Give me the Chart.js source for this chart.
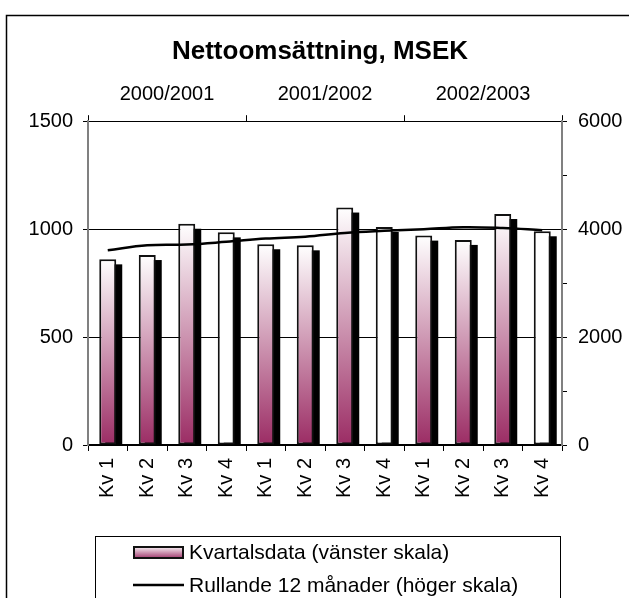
<!DOCTYPE html>
<html>
<head>
<meta charset="utf-8">
<script src="https://cdn.jsdelivr.net/npm/chart.js@4.4.1/dist/chart.umd.min.js"></script>
<style>
    html, body { margin: 0; padding: 0; background: #ffffff; }
    canvas { display: block; }
</style>
</head>
<body>
<canvas id="sales-chart" width="629" height="598"></canvas>
<script>
// Quarter categories and the fiscal years above them
var quarterLabels = ['Kv 1', 'Kv 2', 'Kv 3', 'Kv 4',
                     'Kv 1', 'Kv 2', 'Kv 3', 'Kv 4',
                     'Kv 1', 'Kv 2', 'Kv 3', 'Kv 4'];
var yearLabels = ['2000/2001', '2001/2002', '2002/2003'];

// Net sales per quarter, MSEK (left scale)
var quarterlySales = [860, 880, 1025, 985, 930, 925, 1100, 1010, 970, 950, 1070, 990];
// Rolling 12 months, MSEK (right scale)
var rolling12m = [3610, 3700, 3715, 3765, 3825, 3860, 3930, 3970, 4000, 4035, 4020, 3980];

// Axis ranges
var leftMax = 1500, leftStep = 500;
var rightMax = 6000, rightStep = 1000, rightLabelStep = 2000;

var seriesLabels = ['Kvartalsdata (vänster skala)', 'Rullande 12 månader (höger skala)'];

var MAROON = '#9b2c64';
var FONT = "'Liberation Sans', Arial, sans-serif";

Chart.defaults.font.family = FONT;
Chart.defaults.color = '#000000';

function barGradient(ctx, top, bottom) {
    var g = ctx.createLinearGradient(0, top, 0, bottom);
    g.addColorStop(0, '#ffffff');
    g.addColorStop(1, MAROON);
    return g;
}

// White page with the frame round the whole chart
var framePlugin = {
    id: 'frame',
    beforeDraw: function(chart) {
        var ctx = chart.ctx;
        ctx.save();
        ctx.fillStyle = '#ffffff';
        ctx.fillRect(0, 0, chart.width, chart.height);
        ctx.strokeStyle = '#000000';
        ctx.lineWidth = 1.5;
        ctx.strokeRect(6.5, 15.5, 700, 700);
        ctx.restore();
    }
};

// Black drop shadow behind every bar
var barShadowPlugin = {
    id: 'barShadow',
    beforeDatasetDraw: function(chart, args) {
        if (args.meta.type !== 'bar') return;
        var ctx = chart.ctx;
        var area = chart.chartArea;
        ctx.save();
        ctx.beginPath();
        ctx.rect(area.left, area.top, area.right - area.left, area.bottom - area.top);
        ctx.clip();
        ctx.fillStyle = '#000000';
        args.meta.data.forEach(function(bar) {
            var p = bar.getProps(['x', 'y', 'base', 'width'], true);
            ctx.fillRect(p.x - p.width / 2 + 6, p.y + 5, p.width, p.base - p.y - 5);
        });
        ctx.restore();
    }
};

// Boxed legend below the axis, items left aligned
var boxLegendPlugin = {
    id: 'boxLegend',
    afterDraw: function(chart) {
        var ctx = chart.ctx;
        var ds = chart.data.datasets;
        ctx.save();
        ctx.strokeStyle = '#000000';
        ctx.lineWidth = 1;
        ctx.strokeRect(95.5, 536.5, 465, 100);

        ctx.fillStyle = barGradient(ctx, 546, 559);
        ctx.fillRect(133, 546, 51, 13);
        ctx.lineWidth = 2;
        ctx.strokeStyle = '#111111';
        ctx.strokeRect(134, 547, 49, 11);

        ctx.beginPath();
        ctx.moveTo(133, 585);
        ctx.lineTo(184, 585);
        ctx.lineWidth = 2.5;
        ctx.strokeStyle = '#000000';
        ctx.stroke();

        ctx.fillStyle = '#000000';
        ctx.font = '21px ' + FONT;
        ctx.textAlign = 'left';
        ctx.textBaseline = 'middle';
        ctx.fillText(ds[0].label, 189, 553);
        ctx.fillText(ds[1].label, 189, 586);
        ctx.restore();
    }
};

var ctx = document.getElementById('sales-chart').getContext('2d');

new Chart(ctx, {
    type: 'bar',
    data: {
        labels: quarterLabels,
        datasets: [
            {
                label: seriesLabels[0],
                data: quarterlySales,
                yAxisID: 'y',
                backgroundColor: function(c) {
                    var chart = c.chart;
                    if (c.type !== 'data' || !chart.chartArea) return '#ffffff';
                    // Kv 4 bars are drawn plain white in the original
                    if (quarterLabels[c.dataIndex] === 'Kv 4') return '#ffffff';
                    var ys = chart.scales.y;
                    return barGradient(chart.ctx, ys.getPixelForValue(c.raw), ys.getPixelForValue(0));
                },
                borderColor: '#111111',
                borderWidth: 2,
                borderSkipped: false,
                barPercentage: 0.43,
                categoryPercentage: 1,
                order: 1
            },
            {
                type: 'line',
                label: seriesLabels[1],
                data: rolling12m,
                yAxisID: 'y1',
                borderColor: '#000000',
                borderWidth: 2.5,
                pointRadius: 0,
                tension: 0.4,
                fill: false,
                order: 0
            }
        ]
    },
    options: {
        responsive: false,
        animation: false,
        layout: { padding: { left: 11, right: 0, top: 0, bottom: 0 } },
        plugins: {
            legend: { display: false },
            tooltip: { enabled: false },
            title: {
                display: true,
                text: 'Nettoomsättning, MSEK',
                font: { family: FONT, size: 26, weight: 'bold' },
                color: '#000000',
                padding: { top: 36, bottom: 0 }
            }
        },
        scales: {
            x: {
                position: 'bottom',
                offset: true,
                grid: { offset: true, drawOnChartArea: false, tickLength: 6, color: '#000000' },
                border: { color: '#000000', width: 1.5 },
                ticks: {
                    minRotation: 90,
                    maxRotation: 90,
                    autoSkip: false,
                    padding: 7,
                    font: { size: 20 },
                    color: '#000000'
                },
                afterFit: function(scale) { scale.height = 153; }
            },
            x2: {
                type: 'category',
                labels: yearLabels,
                position: 'top',
                offset: true,
                grid: { offset: true, drawOnChartArea: false, tickLength: 6, color: '#000000' },
                border: { color: '#000000', width: 1 },
                ticks: { maxRotation: 0, padding: 9, font: { size: 20 }, color: '#000000' },
                afterFit: function(scale) { scale.height = 54; }
            },
            y: {
                position: 'left',
                min: 0,
                max: leftMax,
                ticks: {
                    stepSize: leftStep,
                    padding: 10,
                    font: { size: 20 },
                    color: '#000000',
                    callback: function(v) { return String(v); }
                },
                grid: { color: '#000000', lineWidth: 1, tickLength: 5 },
                border: { color: '#808080', width: 2 },
                afterFit: function(scale) { scale.width = 77; }
            },
            y1: {
                position: 'right',
                min: 0,
                max: rightMax,
                ticks: {
                    stepSize: rightStep,
                    padding: 11,
                    font: { size: 20 },
                    color: '#000000',
                    callback: function(v) { return v % rightLabelStep === 0 ? String(v) : ''; }
                },
                grid: { drawOnChartArea: false, color: '#000000', tickLength: 5 },
                border: { color: '#808080', width: 2 },
                afterFit: function(scale) { scale.width = 67; }
            }
        }
    },
    plugins: [framePlugin, barShadowPlugin, boxLegendPlugin]
});
</script>
</body>
</html>
